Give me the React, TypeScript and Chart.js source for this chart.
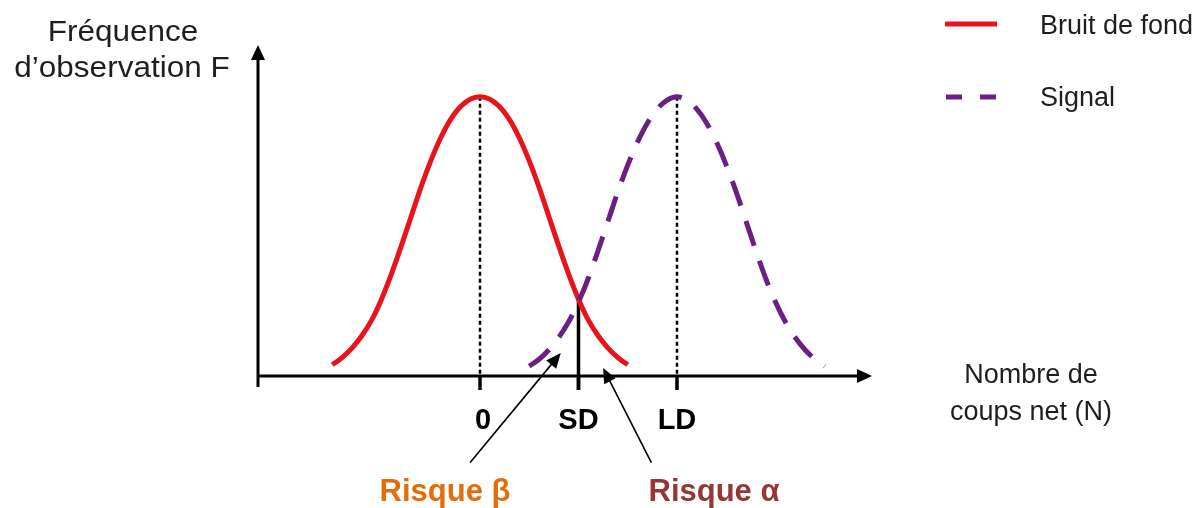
import React, { useEffect, useRef } from "react";
import { Chart, registerables } from "chart.js";

Chart.register(...registerables);

// ---- Data ----
const NOISE_X = [-7.5, -7, -6.5, -6, -5.5, -5, -4.5, -4, -3.5, -3, -2.5, -2, -1.5, -1, -0.5, 0, 0.5, 1, 1.5, 2, 2.5, 3, 3.5, 4, 4.5, 5, 5.5, 6, 6.5, 7, 7.5];
const NOISE_F = [4, 6.6, 10, 14.4, 20, 27.5, 36.5, 46.5, 57, 67.5, 77, 85.2, 91.8, 96.4, 99.1, 100, 99.1, 96.4, 91.8, 85.2, 77, 67.5, 57, 46.5, 36.5, 27.5, 20, 14.4, 10, 6.6, 4];
const SIGNAL_X = [2.5, 3, 3.5, 4, 4.5, 5, 5.5, 6, 6.5, 7, 7.5, 8, 8.5, 9, 9.5, 10, 10.5, 11, 11.5, 12, 12.5, 13, 13.5, 14, 14.5, 15, 15.5, 16, 16.5, 17, 17.5];
const SIGNAL_F = [3.5, 6, 9.4, 13.8, 19.4, 26.5, 35, 45, 55.5, 66, 75.5, 83.8, 90.6, 95.6, 98.8, 100, 98.8, 95.6, 90.6, 83.8, 75.5, 66, 55.5, 45, 35, 26.5, 19.4, 13.8, 9.4, 6, 3.5];

const TICK_VALUES = [0, 5, 10];
const TICK_LABELS = ["0", "SD", "LD"];
const PEAK_VALUES = [0, 10]; // means of noise and signal (dotted guides)
const SD_VALUE = 5;

const SERIES_NAMES = ["Bruit de fond", "Signal"];
const Y_TITLE = ["Fréquence", "d’observation F"];
const X_TITLE = ["Nombre de", "coups net (N)"];
const RISK_LABELS = ["Risque β", "Risque α"];
// arrows (tail -> tip) in data coordinates
const RISK_BETA_ARROW = [[-0.5, -31], [4.1, 8.2]];
const RISK_ALPHA_ARROW = [[8.7, -31], [6.25, 2.9]];

const RED = "#E8141B";
const PURPLE = "#6C1F82";
const BETA_COLOR = "#E46C0A";
const ALPHA_COLOR = "#953735";
const TEXT = "#1E1E1E";
const FONT = '"Liberation Sans", Arial, sans-serif';

function drawText(ctx: CanvasRenderingContext2D, s: string, x: number, y: number, font: string, color: string, align: CanvasTextAlign = "center", sx = 1) {
  ctx.save();
  ctx.translate(x, y);
  ctx.scale(sx, 1);
  ctx.font = font;
  ctx.fillStyle = color;
  ctx.textAlign = align;
  ctx.textBaseline = "alphabetic";
  ctx.fillText(s, 0, 0);
  ctx.restore();
}

function arrow(ctx: CanvasRenderingContext2D, x1: number, y1: number, x2: number, y2: number, lw: number, headLen: number, headHalf: number, color: string) {
  const a = Math.atan2(y2 - y1, x2 - x1);
  const bx = x2 - headLen * Math.cos(a);
  const by = y2 - headLen * Math.sin(a);
  ctx.save();
  ctx.strokeStyle = color;
  ctx.fillStyle = color;
  ctx.lineWidth = lw;
  ctx.setLineDash([]);
  ctx.beginPath();
  ctx.moveTo(x1, y1);
  ctx.lineTo(bx + 1 * Math.cos(a), by + 1 * Math.sin(a));
  ctx.stroke();
  ctx.beginPath();
  ctx.moveTo(x2, y2);
  ctx.lineTo(bx + headHalf * Math.sin(a), by - headHalf * Math.cos(a));
  ctx.lineTo(bx - headHalf * Math.sin(a), by + headHalf * Math.cos(a));
  ctx.closePath();
  ctx.fill();
  ctx.restore();
}

const diagramPlugin = {
  id: "diagram",
  beforeDatasetsDraw(chart: any) {
    const ctx: CanvasRenderingContext2D = chart.ctx;
    const xs = chart.scales.x;
    const ys = chart.scales.y;
    const area = chart.chartArea;
    const y0 = ys.getPixelForValue(0);
    ctx.save();
    // dotted guides at the means
    ctx.strokeStyle = "#000";
    ctx.lineWidth = 2.5;
    ctx.setLineDash([4, 3]);
    PEAK_VALUES.forEach((v, i) => {
      const arr = i === 0 ? NOISE_F : SIGNAL_F;
      const top = Math.max(...arr);
      const px = xs.getPixelForValue(v);
      ctx.beginPath();
      ctx.moveTo(px, ys.getPixelForValue(top));
      ctx.lineTo(px, y0);
      ctx.stroke();
    });
    ctx.setLineDash([]);
    // SD solid line from curve crossing to below axis
    const sdIdx = NOISE_X.indexOf(SD_VALUE);
    const sdPx = xs.getPixelForValue(SD_VALUE);
    ctx.lineWidth = 3.5;
    ctx.beginPath();
    ctx.moveTo(sdPx, ys.getPixelForValue(NOISE_F[sdIdx]));
    ctx.lineTo(sdPx, y0 + 14);
    ctx.stroke();
    // ticks
    ctx.lineWidth = 3.5;
    TICK_VALUES.forEach((v) => {
      const px = xs.getPixelForValue(v);
      ctx.beginPath();
      ctx.moveTo(px, y0);
      ctx.lineTo(px, y0 + 14);
      ctx.stroke();
    });
    // axes
    ctx.lineWidth = 3;
    ctx.beginPath();
    ctx.moveTo(area.left, y0 + 11);
    ctx.lineTo(area.left, area.top + 12);
    ctx.stroke();
    ctx.beginPath();
    ctx.moveTo(area.left, y0);
    ctx.lineTo(area.right - 12, y0);
    ctx.stroke();
    ctx.fillStyle = "#000";
    ctx.beginPath();
    ctx.moveTo(area.left, area.top);
    ctx.lineTo(area.left + 7, area.top + 15);
    ctx.lineTo(area.left - 7, area.top + 15);
    ctx.closePath();
    ctx.fill();
    ctx.beginPath();
    ctx.moveTo(area.right, y0);
    ctx.lineTo(area.right - 15, y0 - 7);
    ctx.lineTo(area.right - 15, y0 + 7);
    ctx.closePath();
    ctx.fill();
    ctx.restore();
  },
  afterDatasetsDraw(chart: any) {
    const ctx: CanvasRenderingContext2D = chart.ctx;
    const xs = chart.scales.x;
    const ys = chart.scales.y;
    const y0 = ys.getPixelForValue(0);
    // tick labels
    TICK_VALUES.forEach((v, i) => {
      drawText(ctx, TICK_LABELS[i], xs.getPixelForValue(v) + (i === 0 ? 3 : 0), y0 + 53, `bold 29px ${FONT}`, "#000");
    });
    // risk arrows
    const arrs = [RISK_BETA_ARROW, RISK_ALPHA_ARROW];
    arrs.forEach((a) => {
      arrow(ctx, xs.getPixelForValue(a[0][0]), ys.getPixelForValue(a[0][1]), xs.getPixelForValue(a[1][0]), ys.getPixelForValue(a[1][1]), 1.6, 15, 6.5, "#000");
    });
    drawText(ctx, RISK_LABELS[0], 445, 501, `bold 31px ${FONT}`, BETA_COLOR);
    drawText(ctx, RISK_LABELS[1], 714, 501, `bold 31px ${FONT}`, ALPHA_COLOR);
    // axis titles
    drawText(ctx, Y_TITLE[0], 123, 41, `30px ${FONT}`, TEXT, "center", 1.05);
    drawText(ctx, Y_TITLE[1], 122, 77, `30px ${FONT}`, TEXT, "center", 1.05);
    drawText(ctx, X_TITLE[0], 1031, 383, `27px ${FONT}`, TEXT);
    drawText(ctx, X_TITLE[1], 1031, 420, `27px ${FONT}`, TEXT);
    // legend
    ctx.save();
    ctx.lineWidth = 5;
    ctx.strokeStyle = RED;
    ctx.beginPath();
    ctx.moveTo(945, 24);
    ctx.lineTo(997, 24);
    ctx.stroke();
    ctx.strokeStyle = PURPLE;
    ctx.setLineDash([16, 18]);
    ctx.beginPath();
    ctx.moveTo(946, 97);
    ctx.lineTo(997, 97);
    ctx.stroke();
    ctx.restore();
    drawText(ctx, SERIES_NAMES[0], 1040, 34, `27px ${FONT}`, TEXT, "left");
    drawText(ctx, SERIES_NAMES[1], 1040, 106, `27px ${FONT}`, TEXT, "left");
  },
};

export default function App() {
  const ref = useRef<HTMLCanvasElement | null>(null);
  useEffect(() => {
    if (!ref.current) return;
    const chart = new Chart(ref.current, {
      type: "line",
      data: {
        datasets: [
          {
            label: SERIES_NAMES[0],
            data: NOISE_X.map((x, i) => ({ x, y: NOISE_F[i] })),
            borderColor: RED,
            borderWidth: 5,
            pointRadius: 0,
            cubicInterpolationMode: "monotone",
            fill: false,
            order: 2,
          },
          {
            label: SERIES_NAMES[1],
            data: SIGNAL_X.map((x, i) => ({ x, y: SIGNAL_F[i] })),
            borderColor: PURPLE,
            borderWidth: 5,
            borderDash: [26, 16],
            pointRadius: 0,
            cubicInterpolationMode: "monotone",
            fill: false,
            order: 1,
          },
        ],
      },
      options: {
        animation: false,
        responsive: false,
        maintainAspectRatio: false,
        layout: { padding: { left: 258, right: 329, top: 45, bottom: 132 } },
        scales: {
          x: { type: "linear", display: false, min: -11.27, max: 19.9 },
          y: { type: "linear", display: false, min: 0, max: 118.5 },
        },
        plugins: { legend: { display: false }, tooltip: { enabled: false } },
      },
      plugins: [diagramPlugin],
    } as any);
    return () => chart.destroy();
  }, []);
  return (
    <div style={{ position: "absolute", left: 0, top: 0, width: 1201, height: 508, background: "#fff" }}>
      <canvas ref={ref} width={1201} height={508} style={{ width: 1201, height: 508 }} />
    </div>
  );
}
